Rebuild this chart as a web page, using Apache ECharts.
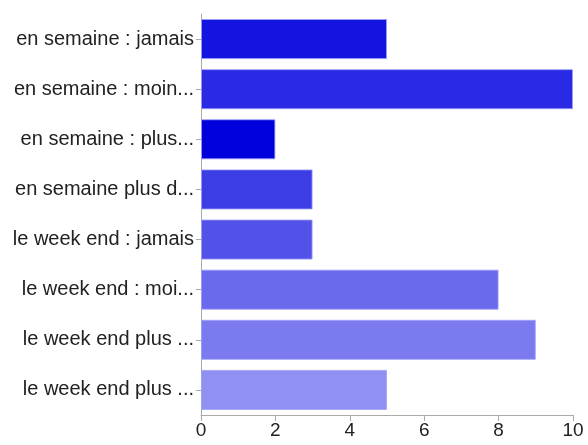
<!DOCTYPE html>
<html><head><meta charset="utf-8">
<script src="https://cdn.jsdelivr.net/npm/echarts@6/dist/echarts.min.js"></script>
<style>html,body{margin:0;padding:0;background:#fff}#c{width:588px;height:445px}</style>
</head><body><div id="c"></div>
<script>
const categories = ["en semaine : jamais","en semaine : moin...","en semaine : plus...","en semaine plus d...","le week end : jamais","le week end : moi...","le week end plus ...","le week end plus ..."];
const values = [5, 10, 2, 3, 3, 8, 9, 5];
const colors = ["#1414e0","#2a2ae4","#0000dd","#3d3de6","#5252e8","#6a6aec","#7b7bef","#9090f2"];
const xTicks = [0, 2, 4, 6, 8, 10];

const chart = echarts.init(document.getElementById('c'), null, {renderer:'canvas'});
chart.setOption({
  animation:false,
  grid:{left:201, right:15, top:14, bottom:30},
  xAxis:{type:'value', min:0, max:10, interval:2,
    axisLine:{show:true, lineStyle:{color:'#aaa'}},
    axisTick:{show:true, length:6, lineStyle:{color:'#aaa'}},
    splitLine:{show:false},
    axisLabel:{color:'#222', fontSize:19, fontFamily:'Liberation Sans', margin:6,
      formatter:v=>xTicks.includes(v)?String(v):''}
  },
  yAxis:{type:'category', inverse:true, data:categories,
    axisLine:{show:true, lineStyle:{color:'#aaa'}},
    axisTick:{show:true, length:5, alignWithLabel:true, lineStyle:{color:'#aaa'}},
    axisLabel:{color:'#222', fontSize:20, fontFamily:'Liberation Sans', margin:7}
  },
  series:[{type:'bar', barCategoryGap:'20%',
    data:values.map((v,i)=>({value:v, itemStyle:{color:colors[i], borderColor:'rgba(160,160,255,0.8)', borderWidth:1}}))
  }]
});
</script></body></html>
